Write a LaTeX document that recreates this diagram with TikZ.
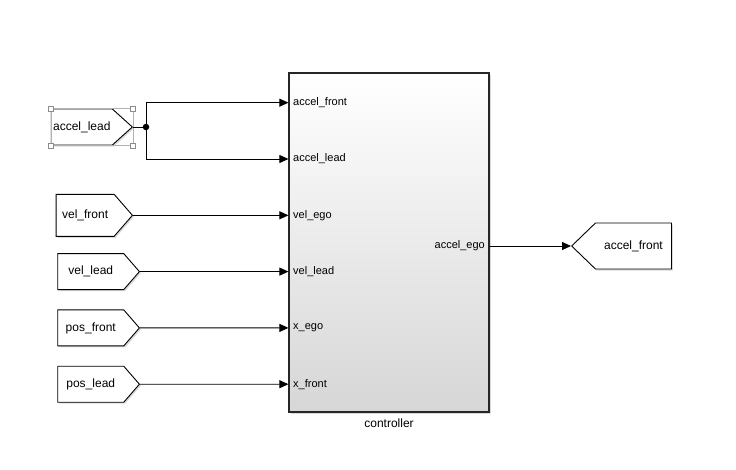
\documentclass[tikz,border=0pt]{standalone}
\usepackage{fontspec}
\setmainfont{Liberation Sans}
\usetikzlibrary{shapes.symbols, arrows.meta, shadows, positioning}
\tikzset{
  line/.style={line width=0.9pt},
  sig/.style={line, -{Triangle[length=9pt, width=8pt]}},
  goto/.style={signal, draw, line width=0.9pt, fill=white, inner xsep=0pt,
    font=\fontsize{12}{14}\selectfont,
    drop shadow={shadow xshift=1.5pt, shadow yshift=-1.5pt, opacity=0.3}},
  subsys/.style={draw=black!85, line width=1.2pt, minimum width=200pt,
    minimum height=339pt, top color=white, middle color=black!2,
    bottom color=black!16,
    drop shadow={shadow xshift=1.5pt, shadow yshift=-1.5pt, opacity=0.3}},
  portlab/.style={inner sep=0pt, font=\fontsize{11}{13}\selectfont},
  handle/.style={draw=black!45, fill=white, line width=0.5pt,
    minimum size=5pt, inner sep=0pt},
  branch/.style={circle, fill, inner sep=0pt, minimum size=6.5pt},
}

\begin{document}
\begin{tikzpicture}[x=1pt, y=-1pt]
  \useasboundingbox (0,0) rectangle (736,469);

  % subsystem
  \node[subsys] (ctrl) at (389,242.5) {};
  \node[below=3pt of ctrl, font=\fontsize{12}{14}\selectfont] (ctrlname) {controller};

  % ports
  \foreach \lab [count=\i] in {accel\_front, accel\_lead, vel\_ego, vel\_lead, x\_ego, x\_front}
    \node[portlab, anchor=west] (p\i) at (293,{102.7+(\i-1)*56.3}) {\lab};
  \node[portlab, anchor=east] (pout) at (485,246) {accel\_ego};

  % from blocks
  \node[goto, signal to=east, signal pointer angle=84, text width=61pt, align=center,
    minimum height=36pt, anchor=east] (accl) at (133,127) {accel\_lead};
  \node[goto, signal to=east, signal pointer angle=98, text width=58pt, align=center,
    minimum height=42pt, anchor=east] (velf) at (133,215.3) {vel\_front};
  \node[goto, signal to=east, signal pointer angle=98, text width=66pt, align=center,
    minimum height=36pt, anchor=east] (vell) at (140,271.6) {vel\_lead};
  \node[goto, signal to=east, signal pointer angle=98, text width=66pt, align=center,
    minimum height=36pt, anchor=east] (posf) at (140,327.9) {pos\_front};
  \node[goto, signal to=east, signal pointer angle=98, text width=66pt, align=center,
    minimum height=36pt, anchor=east] (posl) at (140,384.2) {pos\_lead};

  % goto block
  \node[goto, signal to=west, signal pointer angle=88, text width=76pt, align=center,
    minimum height=46pt, anchor=west] (accf) at (571,246) {accel\_front};

  % selection of accel_lead
  \draw[black!30, line width=0.5pt] (accl.west |- accl.north) rectangle (accl.east |- accl.south);
  \foreach \c in {accl.west |- accl.north, accl.east |- accl.north,
                  accl.west |- accl.south, accl.east |- accl.south}
    \node[handle] at (\c) {};

  % signals
  \node[branch] (br) at (146,127) {};
  \draw[line] (accl.east) -- (br);
  \draw[sig] (br) |- (ctrl.west |- p1);
  \draw[sig] (br) |- (ctrl.west |- p2);
  \draw[sig] (velf.east) -- (ctrl.west |- p3);
  \draw[sig] (vell.east) -- (ctrl.west |- p4);
  \draw[sig] (posf.east) -- (ctrl.west |- p5);
  \draw[sig] (posl.east) -- (ctrl.west |- p6);
  \draw[sig] (ctrl.east |- pout) -- (accf.west);
\end{tikzpicture}
\end{document}
